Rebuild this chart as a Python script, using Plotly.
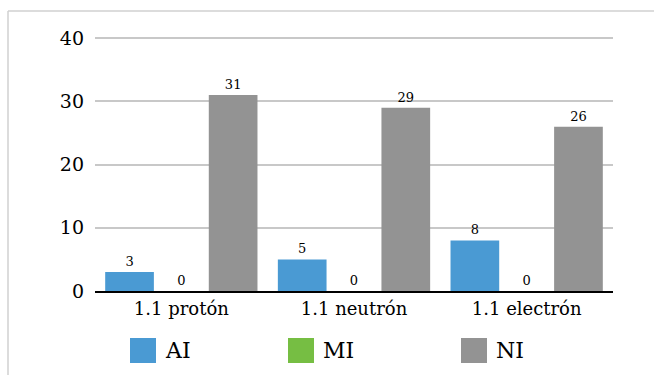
import plotly.graph_objects as go

categories = ["1.1 protón", "1.1 neutrón", "1.1 electrón"]
series_names = ["AI", "MI", "NI"]
ai_values = [3, 5, 8]
mi_values = [0, 0, 0]
ni_values = [31, 29, 26]
colors = ["#4A9AD3", "#76BE43", "#939393"]
y_ticks = [0, 10, 20, 30, 40]

SERIF = "DejaVu Serif"

W, H = 654, 375
L, R, T, B = 95, 41, 35, 84
pw, ph = W - L - R, H - T - B

fig = go.Figure()
for name, vals, col in zip(series_names, [ai_values, mi_values, ni_values], colors):
    fig.add_trace(go.Bar(
        x=categories, y=vals, name=name, marker_color=col, marker_line_width=0,
        text=vals, textposition="outside", cliponaxis=False,
        textfont=dict(family=SERIF, size=13, color="#000000"),
        showlegend=False,
    ))

def px_x(x):
    return (x - L) / pw

def px_y(y):
    return (H - B - y) / ph

shapes = [
    dict(type="line", xref="paper", yref="paper", x0=px_x(8), x1=px_x(660), y0=px_y(11), y1=px_y(11),
         line=dict(color="#D0D0D0", width=1.5)),
    dict(type="line", xref="paper", yref="paper", x0=px_x(8), x1=px_x(8), y0=px_y(11), y1=px_y(380),
         line=dict(color="#D0D0D0", width=1.5)),
]
annotations = []
legend_x = [130, 288, 461]
for name, col, lx in zip(series_names, colors, legend_x):
    shapes.append(dict(type="rect", xref="paper", yref="paper", x0=px_x(lx), x1=px_x(lx + 26),
                       y0=px_y(363), y1=px_y(338), fillcolor=col, line=dict(width=0)))
    annotations.append(dict(xref="paper", yref="paper", x=px_x(lx + 33), y=px_y(350.5), text=name,
                            showarrow=False, xanchor="left", yanchor="middle",
                            font=dict(family=SERIF, size=22, color="#000000")))

fig.update_layout(
    width=W, height=H, margin=dict(l=L, r=R, t=T, b=B, pad=0),
    paper_bgcolor="white", plot_bgcolor="white",
    barmode="group", bargap=0.1, bargroupgap=0.06,
    shapes=shapes, annotations=annotations, showlegend=False,
    font=dict(family=SERIF, color="#000000"),
    xaxis=dict(showline=True, linecolor="#000000", linewidth=2, ticks="",
               tickfont=dict(family=SERIF, size=18, color="#000000"),
               showgrid=False, fixedrange=True),
    yaxis=dict(range=[0, 40.5], tickvals=y_ticks, showgrid=True, gridcolor="#C8C8C8", gridwidth=2,
               zeroline=False, showline=False, ticks="", ticklabelstandoff=10,
               tickfont=dict(family=SERIF, size=19, color="#000000"), fixedrange=True),
)

fig.write_html("out.html")
